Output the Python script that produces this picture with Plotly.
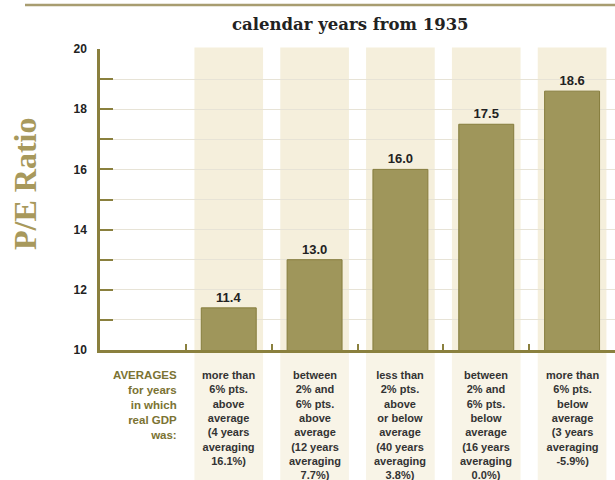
import plotly.graph_objects as go

# ---- data ----
categories = [
    "AVERAGES<br>for years<br>in which<br>real GDP<br>was:",
    "more than<br>6% pts.<br>above<br>average<br>(4 years<br>averaging<br>16.1%)",
    "between<br>2% and<br>6% pts.<br>above<br>average<br>(12 years<br>averaging<br>7.7%)",
    "less than<br>2% pts.<br>above<br>or below<br>average<br>(40 years<br>averaging<br>3.8%)",
    "between<br>2% and<br>6% pts.<br>below<br>average<br>(16 years<br>averaging<br>0.0%)",
    "more than<br>6% pts.<br>below<br>average<br>(3 years<br>averaging<br>-5.9%)",
]
bar_categories = categories[1:]
pe_values = [11.4, 13.0, 16.0, 17.5, 18.6]
y_tickvals = [10, 12, 14, 16, 18, 20]
title_text = "calendar years from 1935"
y_title = "P/E Ratio"

OLIVE = "#8a803e"
BAND = "#f5efdc"
BAND_LOW = "#f8f4e7"
SANS = "Liberation Sans, Arial, sans-serif"
SERIF = "DejaVu Serif, serif"

W, H = 615, 480
ML, MR, MT, MB = 100, 0, 49, 130
PW = W - ML - MR
PH = H - MT - MB


def px_x(px):
    return (px - ML) / PW


def px_y(py):
    return (H - MB - py) / PH


fig = go.Figure()

fig.add_trace(go.Bar(
    x=bar_categories,
    y=pe_values,
    marker=dict(color="#9f965b", line=dict(color="#857c3c", width=1)),
    text=[f"{v:.1f}" for v in pe_values],
    textposition="outside",
    textfont=dict(family=SANS, size=13, color="#222222", weight="bold"),
    cliponaxis=False,
    hoverinfo="skip",
))

shapes = []
for i in range(1, len(categories)):
    shapes.append(dict(type="rect", xref="x", yref="paper", x0=i - 0.4, x1=i + 0.4,
                       y0=0, y1=1.005, fillcolor=BAND, line=dict(width=0), layer="below"))
    shapes.append(dict(type="rect", xref="x", yref="paper", x0=i - 0.4, x1=i + 0.4,
                       y0=px_y(H), y1=0, fillcolor=BAND_LOW, line=dict(width=0), layer="below"))
# top rule
shapes.append(dict(type="line", xref="paper", yref="paper", x0=px_x(25), x1=1.0,
                   y0=px_y(5), y1=px_y(5), line=dict(color="#a89d70", width=2.5)))

annotations = [
    dict(text=f"<b>{title_text}</b>", xref="paper", yref="paper", x=px_x(350), y=px_y(24),
         showarrow=False, font=dict(family=SERIF, size=16.5, color="#222222"),
         xanchor="center", yanchor="middle"),
    dict(text=f"<b>{y_title}</b>", xref="paper", yref="paper", x=px_x(25), y=px_y(184),
         showarrow=False, textangle=-90,
         font=dict(family="Liberation Serif, Times New Roman, serif", size=32, color="#a8995c"),
         xanchor="center", yanchor="middle"),
    dict(text=f"<b>{categories[0]}</b>", xref="paper", yref="paper", x=px_x(179), y=px_y(367),
         showarrow=False, align="right", xanchor="right", yanchor="top",
         font=dict(family=SANS, size=11.5, color="#7b7333")),
]
for i, c in enumerate(categories[1:], start=1):
    annotations.append(dict(text=f"<b>{c}</b>", xref="x", yref="paper", x=i, y=px_y(367),
                            showarrow=False, align="center", xanchor="center", yanchor="top",
                            font=dict(family=SANS, size=11, color="#333333")))

fig.update_layout(
    width=W, height=H,
    margin=dict(l=ML, r=MR, t=MT, b=MB),
    paper_bgcolor="white", plot_bgcolor="white",
    showlegend=False,
    bargap=0.36,
    shapes=shapes,
    annotations=annotations,
    xaxis=dict(
        type="category",
        categoryorder="array",
        categoryarray=categories,
        range=[-0.5, len(categories) - 0.5],
        showticklabels=False,
        showgrid=False,
        showline=True, linecolor=OLIVE, linewidth=3,
        tickson="boundaries", ticks="inside", ticklen=6, tickwidth=2, tickcolor=OLIVE,
        zeroline=False, fixedrange=True,
    ),
    yaxis=dict(
        range=[10, 20],
        tickvals=y_tickvals,
        ticks="inside", ticklen=13, tickwidth=2, tickcolor=OLIVE,
        showline=True, linecolor=OLIVE, linewidth=2.5,
        showgrid=True, gridcolor="#e7e3d6", gridwidth=1,
        minor=dict(dtick=1, ticks="inside", ticklen=13, tickwidth=2, tickcolor=OLIVE,
                   showgrid=True, gridcolor="#e7e3d6", gridwidth=1),
        tickfont=dict(family=SANS, size=12, color="#222222", weight="bold"),
        ticklabelstandoff=8,
        zeroline=False, fixedrange=True,
    ),
)

fig.write_html(
    "out.html",
    config={"displayModeBar": False},
    post_script="document.body.style.margin='0';document.body.style.padding='0';"
                "document.body.style.overflow='hidden';",
)
